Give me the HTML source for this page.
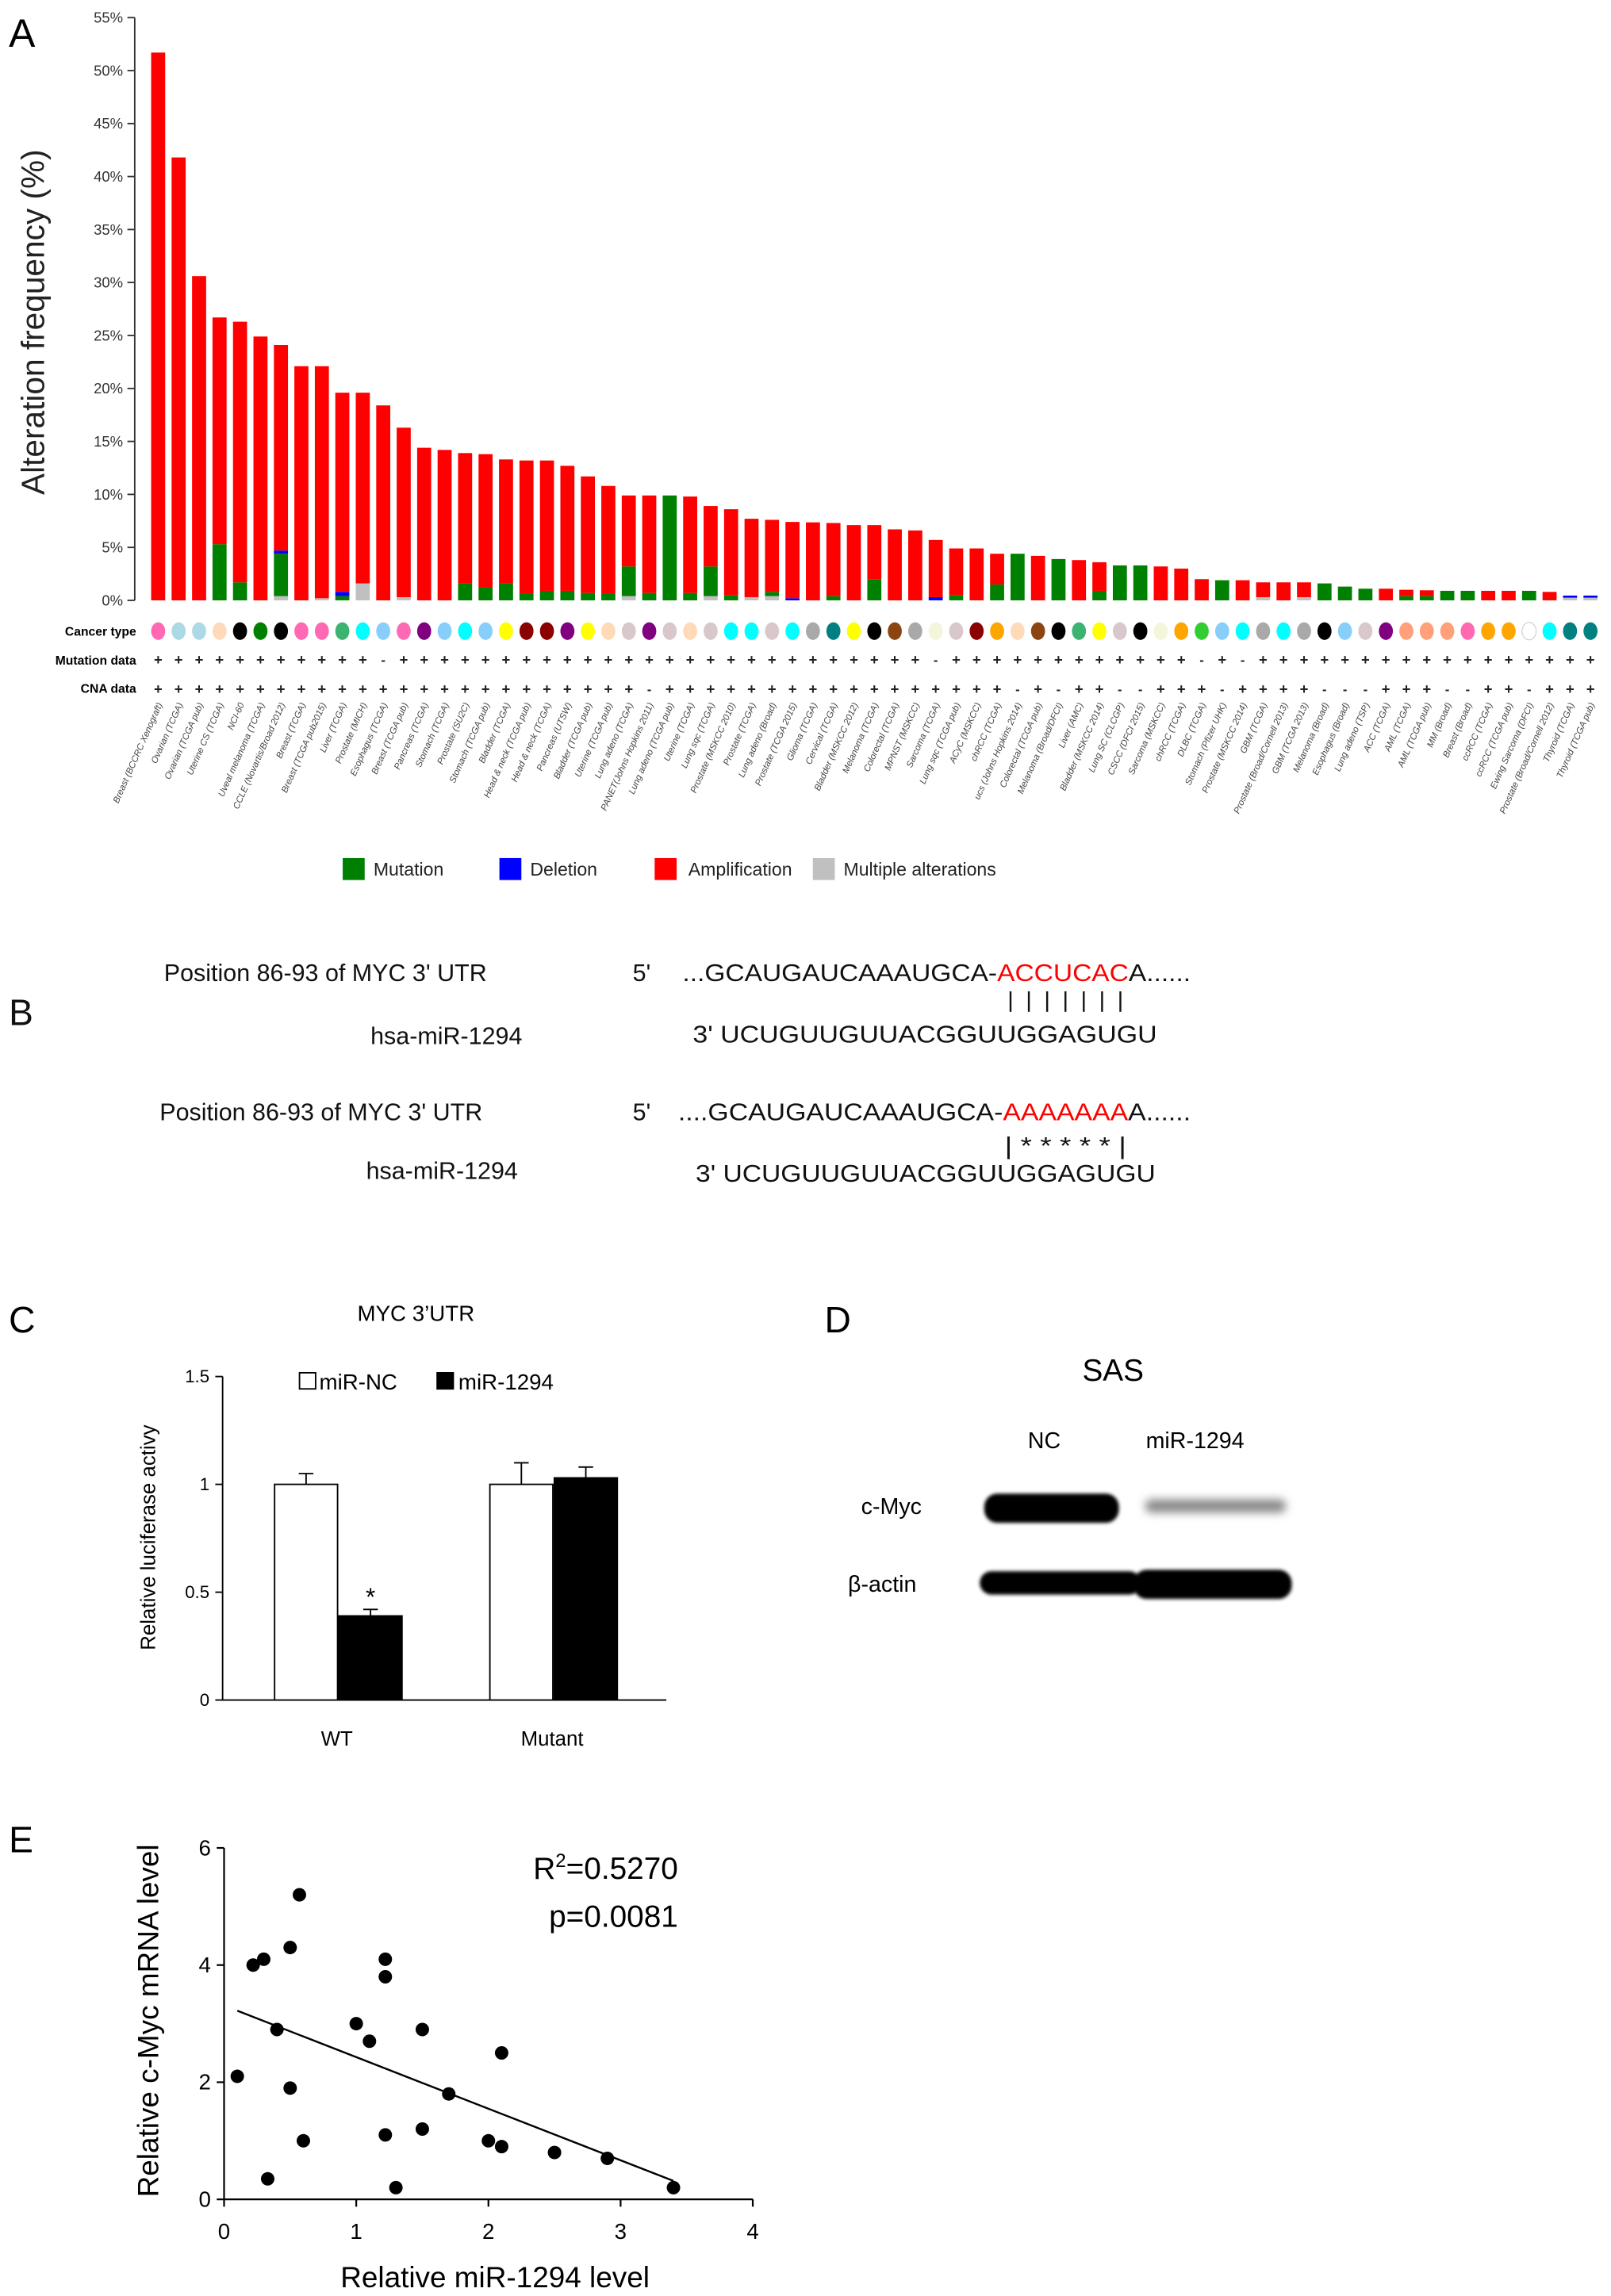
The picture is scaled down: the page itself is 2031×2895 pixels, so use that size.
<!DOCTYPE html>
<html><head><meta charset="utf-8">
<style>
html,body{margin:0;padding:0;background:#fff;}
svg{display:block;}
text{font-family:"Liberation Sans",sans-serif;}
</style></head>
<body>
<svg id="fig" width="2031" height="2895" viewBox="0 0 1100 1568" preserveAspectRatio="none" xmlns="http://www.w3.org/2000/svg">
<defs>
<filter id="blur1" x="-20%" y="-100%" width="140%" height="300%"><feGaussianBlur stdDeviation="1.2"/></filter>
<filter id="blur2" x="-20%" y="-100%" width="140%" height="300%"><feGaussianBlur stdDeviation="3"/></filter>
</defs>
<!-- Panel A -->
<g id="panelA">
<text x="6" y="32" font-size="27">A</text>
<text transform="translate(30,220) rotate(-90)" text-anchor="middle" font-size="22" fill="#222">Alteration frequency (%)</text>
<g id="aAxis"></g>
<g id="aBars"></g>
<g id="aRows">
<text x="93" y="434" text-anchor="end" font-size="8.5" font-weight="bold">Cancer type</text>
<text x="93" y="454" text-anchor="end" font-size="8.5" font-weight="bold">Mutation data</text>
<text x="93" y="473" text-anchor="end" font-size="8.5" font-weight="bold">CNA data</text>
</g>
<g id="aLabels"></g>
<g>
<rect x="234" y="586" width="15" height="15" fill="#008000"/>
<text x="255" y="598" font-size="12.5" fill="#222">Mutation</text>
<rect x="341" y="586" width="15" height="15" fill="#0000ff"/>
<text x="362" y="598" font-size="12.5" fill="#222">Deletion</text>
<rect x="447" y="586" width="15" height="15" fill="#ff0000"/>
<text x="470" y="598" font-size="12.5" fill="#222">Amplification</text>
<rect x="555" y="586" width="15" height="15" fill="#c0c0c0"/>
<text x="576" y="598" font-size="12.5" fill="#222">Multiple alterations</text>
</g>
</g>

<!-- Panel B -->
<g id="panelB" font-size="16.5" fill="#111">
<text x="6" y="700" font-size="25">B</text>
<text x="112" y="670">Position  86-93 of MYC 3' UTR</text>
<text x="432" y="670">5'</text>
<text x="466" y="670" textLength="347" lengthAdjust="spacingAndGlyphs">...GCAUGAUCAAAUGCA-<tspan fill="#ff0000">ACCUCAC</tspan>A......</text>
<g id="pipes1" stroke="#111" stroke-width="1.3"></g>
<text x="253" y="713">hsa-miR-1294</text>
<text x="473" y="712" textLength="317" lengthAdjust="spacingAndGlyphs">3' UCUGUUGUUACGGUUGGAGUGU</text>
<text x="109" y="765">Position  86-93 of MYC 3' UTR</text>
<text x="432" y="765">5'</text>
<text x="463" y="765" textLength="350" lengthAdjust="spacingAndGlyphs">....GCAUGAUCAAAUGCA-<tspan fill="#ff0000">AAAAAAA</tspan>A......</text>
<text x="686" y="788" textLength="83" lengthAdjust="spacingAndGlyphs">| * * * * * |</text>
<text x="250" y="805">hsa-miR-1294</text>
<text x="475" y="807" textLength="314" lengthAdjust="spacingAndGlyphs">3' UCUGUUGUUACGGUUGGAGUGU</text>
</g>

<!-- Panel C -->
<g id="panelC">
<text x="6" y="910" font-size="25">C</text>
<text x="284" y="902" text-anchor="middle" font-size="15">MYC 3’UTR</text>
<text transform="translate(106,1050) rotate(-90)" text-anchor="middle" font-size="14">Relative luciferase activy</text>
<g id="cAxis"></g>
<g id="cBars"></g>
<g>
<rect x="204.5" y="937.5" width="11" height="11" fill="#fff" stroke="#000"/>
<text x="218" y="949" font-size="15">miR-NC</text>
<rect x="298" y="937" width="12" height="12" fill="#000"/>
<text x="313" y="949" font-size="15">miR-1294</text>
</g>
</g>

<!-- Panel D -->
<g id="panelD">
<text x="563" y="910" font-size="25">D</text>
<text x="760" y="943" text-anchor="middle" font-size="21">SAS</text>
<text x="713" y="989" text-anchor="middle" font-size="15.5">NC</text>
<text x="816" y="989" text-anchor="middle" font-size="15.5">miR-1294</text>
<text x="588" y="1034" font-size="15.5">c-Myc</text>
<text x="579" y="1087" font-size="15.5">β-actin</text>
<rect x="672" y="1020" width="92" height="20" rx="9" fill="#000" filter="url(#blur1)"/>
<rect x="782" y="1024" width="96" height="9" rx="4" fill="#888" filter="url(#blur2)"/>
<rect x="669" y="1073" width="110" height="16" rx="8" fill="#000" filter="url(#blur1)"/>
<rect x="774" y="1072" width="108" height="20" rx="9" fill="#000" filter="url(#blur1)"/>
</g>

<!-- Panel E -->
<g id="panelE">
<text x="6" y="1265" font-size="25">E</text>
<text transform="translate(108,1380) rotate(-90)" text-anchor="middle" font-size="20">Relative c-Myc mRNA level</text>
<text x="338" y="1562" text-anchor="middle" font-size="20">Relative miR-1294 level</text>
<text x="463" y="1283" text-anchor="end" font-size="21">R<tspan font-size="13" dy="-8">2</tspan><tspan dy="8">=0.5270</tspan></text>
<text x="463" y="1316" text-anchor="end" font-size="21">p=0.0081</text>
<g id="eAxis"></g>
<g id="ePoints"></g>
</g>
</svg>
<script>
// ---------- Panel A data ----------
const studyNames = ["Breast (BCCRC Xenograft)","Ovarian (TCGA)","Ovarian (TCGA pub)","Uterine CS (TCGA)","NCI-60","Uveal melanoma (TCGA)","CCLE (Novartis/Broad 2012)","Breast (TCGA)","Breast (TCGA pub2015)","Liver (TCGA)","Prostate (MICH)","Esophagus (TCGA)","Breast (TCGA pub)","Pancreas (TCGA)","Stomach (TCGA)","Prostate (SU2C)","Stomach (TCGA pub)","Bladder (TCGA)","Head & neck (TCGA pub)","Head & neck (TCGA)","Pancreas (UTSW)","Bladder (TCGA pub)","Uterine (TCGA pub)","Lung adeno (TCGA)","PANET(Johns Hopkins 2011)","Lung adeno (TCGA pub)","Uterine (TCGA)","Lung sqc (TCGA)","Prostate (MSKCC 2010)","Prostate (TCGA)","Lung adeno (Broad)","Prostate (TCGA 2015)","Glioma (TCGA)","Cervical (TCGA)","Bladder (MSKCC 2012)","Melanoma (TCGA)","Colorectal (TCGA)","MPNST (MSKCC)","Sarcoma (TCGA)","Lung sqc (TCGA pub)","ACyC (MSKCC)","chRCC (TCGA)","ucs (Johns Hopkins 2014)","Colorectal (TCGA pub)","Melanoma (Broad/DFCI)","Liver (AMC)","Bladder (MSKCC 2014)","Lung SC (CLCGP)","CSCC (DFCI 2015)","Sarcoma (MSKCC)","chRCC (TCGA)","DLBC (TCGA)","Stomach (Pfizer UHK)","Prostate (MSKCC 2014)","GBM (TCGA)","Prostate (Broad/Cornell 2013)","GBM (TCGA 2013)","Melanoma (Broad)","Esophagus (Broad)","Lung adeno (TSP)","ACC (TCGA)","AML (TCGA)","AML (TCGA pub)","MM (Broad)","Breast (Broad)","ccRCC (TCGA)","ccRCC (TCGA pub)","Ewing Sarcoma (DFCI)","Prostate (Broad/Cornell 2012)","Thyroid (TCGA)","Thyroid (TCGA pub)"];
const totalFreq = [51.7,41.8,30.6,26.7,26.3,24.9,24.1,22.1,22.1,19.6,19.6,18.4,16.3,14.4,14.2,13.9,13.8,13.3,13.2,13.2,12.7,11.7,10.8,9.9,9.9,9.9,9.8,8.9,8.6,7.7,7.6,7.4,7.36,7.3,7.1,7.1,6.7,6.6,5.7,4.9,4.9,4.4,4.4,4.2,3.9,3.8,3.6,3.3,3.3,3.2,3.0,2.0,1.9,1.9,1.7,1.7,1.7,1.6,1.3,1.1,1.1,1.0,0.95,0.9,0.9,0.9,0.9,0.9,0.8,0.45,0.45];
const mutationFreq = [0,0,0,5.3,1.7,0,4.0,0,0,0.4, 0,0,0,0,0,1.6,1.2,1.6,0.6,0.9, 0.9,0.7,0.6,2.8,0.7,9.9,0.7,2.8,0.5,0, 0.4,0,0,0.4,0,2.0,0,0,0,0.5, 0,1.5,4.4,0,3.9,0,0.9,3.3,3.3,0, 0,0,1.9,0,0,0,0,1.6,1.3,1.1, 0,0.4,0.4,0.9,0.9,0,0,0.9,0,0,0];
const deletionFreq = [0,0,0,0,0,0,0.3,0,0,0.4, 0,0,0,0,0,0,0,0,0,0, 0,0,0,0,0,0,0,0,0,0, 0,0.2,0,0,0,0,0,0,0.3,0, 0,0,0,0,0,0,0,0,0,0, 0,0,0,0,0,0,0,0,0,0, 0,0,0,0,0,0,0,0,0,0.2,0.2];
const multipleFreq = [0,0,0,0,0,0,0.4,0,0.2,0, 1.6,0,0.3,0,0,0,0,0,0,0, 0,0,0,0.4,0,0,0,0.4,0,0.3, 0.4,0,0,0,0,0,0,0,0,0, 0,0,0,0,0,0,0,0,0,0, 0,0,0,0,0.3,0,0.3,0,0,0, 0,0,0,0,0,0,0,0,0,0.25,0.25];
const cancerColors = ["#ff69b4","#add8e6","#add8e6","#ffdab9","#000000","#008000","#000000","#ff69b4","#ff69b4","#3cb371","#00ffff","#87cefa","#ff69b4","#800080","#87cefa","#00ffff","#87cefa","#ffff00","#8b0000","#8b0000","#800080","#ffff00","#ffdab9","#d8c8cc","#800080","#d8c8cc","#ffdab9","#d8c8cc","#00ffff","#00ffff","#d8c8cc","#00ffff","#a9a9a9","#008080","#ffff00","#000000","#8b4513","#a9a9a9","#f5f5dc","#d8c8cc","#8b0000","#ffa500","#ffdab9","#8b4513","#000000","#3cb371","#ffff00","#d8c8cc","#000000","#f5f5dc","#ffa500","#32cd32","#87cefa","#00ffff","#a9a9a9","#00ffff","#a9a9a9","#000000","#87cefa","#d8c8cc","#800080","#ffa07a","#ffa07a","#ffa07a","#ff69b4","#ffa500","#ffa500","#ffffff","#00ffff","#008080","#008080"];
const mutationAvail = ["+","+","+","+","+","+","+","+","+","+","+","-","+","+","+","+","+","+","+","+","+","+","+","+","+","+","+","+","+","+","+","+","+","+","+","+","+","+","-","+","+","+","+","+","+","+","+","+","+","+","+","-","+","-","+","+","+","+","+","+","+","+","+","+","+","+","+","+","+","+","+"];
const cnaAvail = ["+","+","+","+","+","+","+","+","+","+","+","+","+","+","+","+","+","+","+","+","+","+","+","+","-","+","+","+","+","+","+","+","+","+","+","+","+","+","+","+","+","+","-","+","-","+","+","-","-","+","+","+","-","+","+","+","+","-","-","-","+","+","+","-","-","+","+","-","+","+","+"];
const aTicks = [0,5,10,15,20,25,30,35,40,45,50,55];

// ---------- Panel C data ----------
const cGroups = ["WT","Mutant"];
const ncValues = [1.0,1.0];
const ncErrors = [0.05,0.1];
const mirValues = [0.39,1.03];
const mirErrors = [0.03,0.05];
const cTicks = [0,0.5,1,1.5];
const cTickLabels = ["0","0.5","1","1.5"];

// ---------- Panel E data ----------
const mirLevel = [0.1,0.22,0.3,0.33,0.4,0.5,0.5,0.57,0.6,1.0,1.1,1.22,1.22,1.22,1.3,1.5,1.5,1.7,2.0,2.1,2.1,2.5,2.9,3.4];
const mycLevel = [2.1,4.0,4.1,0.35,2.9,4.3,1.9,5.2,1.0,3.0,2.7,4.1,3.8,1.1,0.2,2.9,1.2,1.8,1.0,0.9,2.5,0.8,0.7,0.2];
const eXTicks = [0,1,2,3,4];
const eYTicks = [0,2,4,6];

const NS = "http://www.w3.org/2000/svg";
function mk(tag, attrs, parent){const e=document.createElementNS(NS,tag);for(const k in attrs)e.setAttribute(k,attrs[k]);parent.appendChild(e);return e;}

// Panel A scales
const aY = v => 410 - v*7.236;
const aX = i => 108 + i*(978/70);
const aAxis = document.getElementById('aAxis');
let ax = mk('line',{x1:92,y1:aY(0),x2:92,y2:aY(55),stroke:'#333','stroke-width':1},aAxis);


aTicks.forEach(t=>{
  const l=mk('line',{x1:87,y1:aY(t),x2:92,y2:aY(t),stroke:'#333','stroke-width':1},aAxis);
  
  
  const tx=mk('text',{x:84,y:aY(t)+3.5,'text-anchor':'end','font-size':10,fill:'#333'},aAxis);
  tx.textContent=t+'%';
  
  
});
const aBars=document.getElementById('aBars');
const aRows=document.getElementById('aRows');
const aLabels=document.getElementById('aLabels');
const bw=9.6;
totalFreq.forEach((tot,i)=>{
  const cx=aX(i);
  const segs=[[multipleFreq[i],'#c0c0c0','multiple'],[mutationFreq[i],'#008000','mutation'],[deletionFreq[i],'#0000ff','deletion'],[Math.max(0,tot-multipleFreq[i]-mutationFreq[i]-deletionFreq[i]),'#ff0000','amplification']];
  let base=0;
  segs.forEach(s=>{
    if(s[0]<=0)return;
    const r=mk('rect',{x:cx-bw/2,y:aY(base+s[0]),width:bw,height:aY(base)-aY(base+s[0]),fill:s[1]},aBars);
    
    
    base+=s[0];
  });
  const d=mk('ellipse',{cx:cx,cy:431,rx:4.8,ry:6,fill:cancerColors[i],stroke:cancerColors[i]==='#ffffff'?'#ccc':'none','stroke-width':0.6},aRows);
  
  
  const m=mk('text',{x:cx,y:454,'text-anchor':'middle','font-size':mutationAvail[i]==='+'?10:9,'font-weight':'bold',fill:'#222'},aRows);
  m.textContent=mutationAvail[i]==='+'?'+':'-';
  
  
  const c=mk('text',{x:cx,y:474,'text-anchor':'middle','font-size':cnaAvail[i]==='+'?10:9,'font-weight':'bold',fill:'#222'},aRows);
  c.textContent=cnaAvail[i]==='+'?'+':'-';
  
  
  const lb=mk('text',{transform:'translate('+(cx+3)+',481) rotate(-66)','text-anchor':'end','font-size':6.2,'font-style':'italic',fill:'#444'},aLabels);
  lb.textContent=studyNames[i];
  
  
});
// Panel B pipes
const p1=document.getElementById('pipes1');
for(let k=0;k<7;k++){
  const l=mk('line',{x1:690+k*12.5,y1:677,x2:690+k*12.5,y2:691},p1);
  
  
}
// Panel C
const cY=v=>1161-v*147.3;
const cAxis=document.getElementById('cAxis');
let cl=mk('line',{x1:152,y1:cY(0),x2:152,y2:cY(1.5),stroke:'#000','stroke-width':1},cAxis);


cl=mk('line',{x1:152,y1:cY(0),x2:455,y2:cY(0),stroke:'#000','stroke-width':1},cAxis);


cTicks.forEach((t,k)=>{
  const l=mk('line',{x1:147,y1:cY(t),x2:152,y2:cY(t),stroke:'#000'},cAxis);
  
  
  const tx=mk('text',{x:143,y:cY(t)+4,'text-anchor':'end','font-size':12},cAxis);
  tx.textContent=cTickLabels[k];
  
  
});
const cBars=document.getElementById('cBars');
const gCenter=[231,378];
cGroups.forEach((g,k)=>{
  const c=gCenter[k];
  [[ncValues[k],ncErrors[k],c-44,'#fff','nc'],[mirValues[k],mirErrors[k],c,'#000','mir-1294']].forEach(b=>{
    const e=mk('line',{x1:b[2]+22,y1:cY(b[0]),x2:b[2]+22,y2:cY(b[0]+b[1]),stroke:'#000','stroke-width':1},cBars);
    
    
    const cap=mk('line',{x1:b[2]+17,y1:cY(b[0]+b[1]),x2:b[2]+27,y2:cY(b[0]+b[1]),stroke:'#000','stroke-width':1},cBars);
    
    
    const r=mk('rect',{x:b[2]+0.5,y:cY(b[0]),width:43,height:cY(0)-cY(b[0]),fill:b[3],stroke:'#000','stroke-width':1},cBars);
    
    
  });
  const t=mk('text',{x:c-1,y:1192,'text-anchor':'middle','font-size':14},cBars);
  t.textContent=g;
  
  
});
const st=mk('text',{x:gCenter[0]+22,y:cY(mirValues[0]+mirErrors[0])-3,'text-anchor':'middle','font-size':17},cBars);
st.textContent='*';


// Panel E
const eX=v=>153+v*90.25, eYs=v=>1502-v*40;
const eAxis=document.getElementById('eAxis');
let el=mk('line',{x1:eX(0),y1:eYs(0),x2:eX(4),y2:eYs(0),stroke:'#000','stroke-width':1.2},eAxis);


el=mk('line',{x1:eX(0),y1:eYs(0),x2:eX(0),y2:eYs(6),stroke:'#000','stroke-width':1.2},eAxis);


eXTicks.forEach(t=>{
  const l=mk('line',{x1:eX(t),y1:eYs(0),x2:eX(t),y2:eYs(0)+5,stroke:'#000','stroke-width':1.2},eAxis);
  
  
  const tx=mk('text',{x:eX(t),y:1529,'text-anchor':'middle','font-size':15},eAxis);
  tx.textContent=t;
  
  
});
eYTicks.forEach(t=>{
  const l=mk('line',{x1:eX(0)-5,y1:eYs(t),x2:eX(0),y2:eYs(t),stroke:'#000','stroke-width':1.2},eAxis);
  
  
  const tx=mk('text',{x:eX(0)-9,y:eYs(t)+5,'text-anchor':'end','font-size':15},eAxis);
  tx.textContent=t;
  
  
});
const ePts=document.getElementById('ePoints');
const n=mirLevel.length;
const mx=mirLevel.reduce((a,b)=>a+b,0)/n, my=mycLevel.reduce((a,b)=>a+b,0)/n;
let sxy=0,sxx=0;
for(let i=0;i<n;i++){sxy+=(mirLevel[i]-mx)*(mycLevel[i]-my);sxx+=(mirLevel[i]-mx)**2;}
const slope=sxy/sxx, icpt=my-slope*mx;
const x0=Math.min(...mirLevel), x1=Math.max(...mirLevel);
const rl=mk('line',{x1:eX(x0),y1:eYs(icpt+slope*x0),x2:eX(x1),y2:eYs(icpt+slope*x1),stroke:'#000','stroke-width':1.3},ePts);


mirLevel.forEach((v,i)=>{
  const c=mk('circle',{cx:eX(v),cy:eYs(mycLevel[i]),r:4.6,fill:'#000'},ePts);
  
  
});
</script>
</body></html>
